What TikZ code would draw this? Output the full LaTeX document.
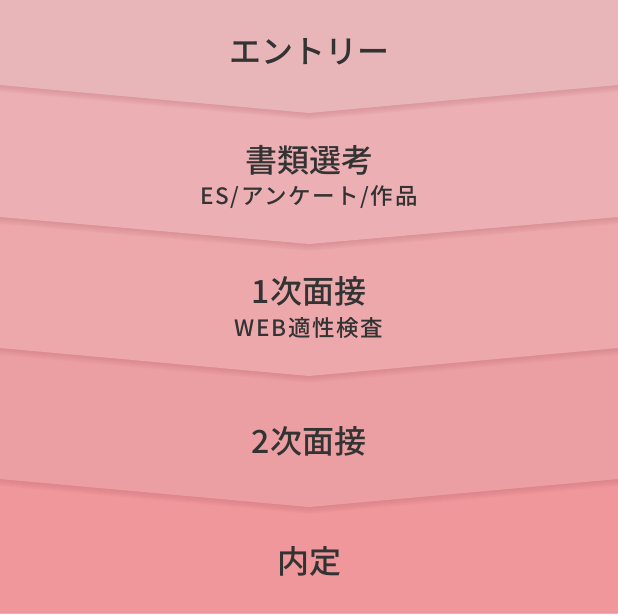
\documentclass[tikz,border=0pt]{standalone}
\usepackage{fontspec}
\IfFontExistsTF{Noto Sans CJK JP Medium}
	{\newfontfamily\jpfont{Noto Sans CJK JP Medium}
	 \newfontfamily\jpnote[LetterSpace=7]{Noto Sans CJK JP Medium}}
	{\newfontfamily\jpfont[FakeBold=0.6]{Noto Sans CJK JP}
	 \newfontfamily\jpnote[FakeBold=0.6,LetterSpace=7]{Noto Sans CJK JP}}
\usetikzlibrary{calc}
\definecolor{bandA}{HTML}{E8B6B9}
\definecolor{bandB}{HTML}{ECB0B4}
\definecolor{bandC}{HTML}{ECA8AB}
\definecolor{bandD}{HTML}{EC9FA3}
\definecolor{bandE}{HTML}{EF979A}
\definecolor{rim}{HTML}{F3ABAD}
\definecolor{shadetone}{HTML}{B8606A}
\definecolor{ink}{HTML}{333333}
\def\chevron[#1](#2:#3){\fill[#1] (0,0) -- (618,0) -- (618,#2) -- (309,#3) -- (0,#2) -- cycle;}
\tikzset{
	steptitle/.style={text=ink, font=\jpfont\fontsize{32}{32}\selectfont, inner sep=0pt},
	stepnote/.style={text=ink, font=\jpnote\fontsize{22.5}{22.5}\selectfont, inner sep=0pt},
	shadetone/.style={fill=shadetone, opacity=0.045}
}

\begin{document}
\begin{tikzpicture}[x=1pt, y=-1pt]
		%%%%% START %%%%%
		\useasboundingbox (0, 0) rectangle (618, 614);
		
		\fill[bandE] (0, 0) rectangle (618, 614);
		\fill[rim] (0, 613) rectangle (618, 614);
		
		\foreach \s in {1,...,7} {\chevron[shadetone, yshift=-\s pt](479:507)}
		\chevron[fill=bandD](479:507)
		
		\foreach \s in {1,...,7} {\chevron[shadetone, yshift=-\s pt](348:376)}
		\chevron[fill=bandC](348:376)
		
		\foreach \s in {1,...,7} {\chevron[shadetone, yshift=-\s pt](217:244)}
		\chevron[fill=bandB](217:244)
		
		\foreach \s in {1,...,7} {\chevron[shadetone, yshift=-\s pt](85:113)}
		\chevron[fill=bandA](85:113)
		
		\node[steptitle] (entry) at (309, 52) {エントリー};
		
		\node[steptitle] (docs) at (309, 160) {書類選考};
		\node[stepnote] (docsnote) at (309, 197) {ES/アンケート/作品};
		
		\node[steptitle] (first) at (309, 291) {1次面接};
		\node[stepnote] (firstnote) at (309, 328) {WEB適性検査};
		
		\node[steptitle] (second) at (309, 441) {2次面接};
		
		\node[steptitle] (offer) at (309, 561) {内定};
		
		%%%%% END %%%%%
\end{tikzpicture}
\end{document}
